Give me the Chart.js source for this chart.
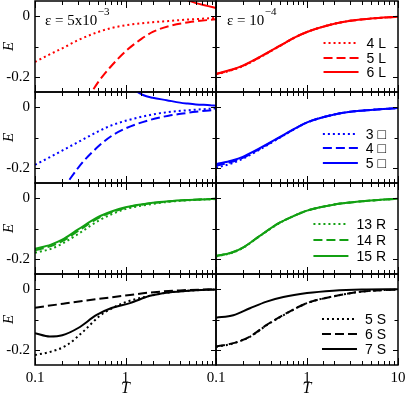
<!DOCTYPE html>
<html>
<head>
<meta charset="utf-8">
<script src="https://cdn.jsdelivr.net/npm/chart.js@4.4.1/dist/chart.umd.min.js"></script>
<style>
  body { margin: 0; background: #fff; }
  #wrap { position: relative; width: 407px; height: 394px; }
  #wrap canvas { position: absolute; left: 0; top: 0; }
</style>
</head>
<body>
<div id="wrap"></div>
<script>
// shared temperature grid
const T = [0.1, 0.15, 0.2, 0.3, 0.5, 0.7, 1, 2, 3, 5, 10];

// row 1: L
const tL5 = [0.3, 0.4, 0.52, 0.67, 1, 1.5, 2, 3, 5, 10];
const tL6 = [3, 4, 5, 6, 8, 10];
const L4a = [-0.151, -0.124, -0.106, -0.079, -0.052, -0.039, -0.03, -0.02, -0.016, -0.011, -0.006];
const L5a = [-0.31, -0.26, -0.21, -0.17, -0.116, -0.075, -0.052, -0.033, -0.02, -0.01];
const L6a = [0.085, 0.062, 0.051, 0.043, 0.034, 0.027];
const L4b = [-0.192, -0.178, -0.164, -0.137, -0.099, -0.074, -0.052, -0.025, -0.015, -0.008, -0.002];
const L5b = [-0.191, -0.177, -0.163, -0.136, -0.098, -0.073, -0.052, -0.025, -0.015, -0.008, -0.002];
const L6b = [-0.19, -0.176, -0.162, -0.135, -0.098, -0.073, -0.052, -0.025, -0.015, -0.008, -0.002];

// row 2: squares
const tQ4 = [0.2, 0.25, 0.34, 0.52, 0.7, 1, 1.87, 3, 4.3, 6, 10];
const tQ5 = [1.2, 1.56, 2, 2.85, 4, 4.8, 6, 8.6, 10];
const Q3a = [-0.19, -0.163, -0.143, -0.115, -0.08, -0.06, -0.045, -0.024, -0.016, -0.01, -0.004];
const Q4a = [-0.275, -0.232, -0.18, -0.125, -0.095, -0.07, -0.042, -0.028, -0.021, -0.015, -0.009];
const Q5a = [0.06, 0.04, 0.031, 0.023, 0.015, 0.012, 0.009, 0.0066, 0.005];
const Q3b = [-0.2, -0.185, -0.169, -0.14, -0.101, -0.075, -0.051, -0.024, -0.015, -0.009, -0.003];
const Q4b = [-0.193, -0.18, -0.166, -0.138, -0.1, -0.075, -0.05, -0.024, -0.015, -0.009, -0.003];
const Q5b = [-0.188, -0.176, -0.163, -0.136, -0.099, -0.074, -0.05, -0.024, -0.015, -0.009, -0.003];

// row 3: R
const R13a = [-0.18, -0.167, -0.15, -0.118, -0.075, -0.053, -0.036, -0.019, -0.012, -0.007, -0.003];
const R14a = [-0.172, -0.158, -0.142, -0.108, -0.066, -0.047, -0.032, -0.016, -0.011, -0.006, -0.002];
const R15a = [-0.167, -0.153, -0.137, -0.103, -0.062, -0.044, -0.03, -0.015, -0.01, -0.006, -0.002];
const R13b = [-0.192, -0.18, -0.163, -0.126, -0.082, -0.06, -0.041, -0.021, -0.014, -0.008, -0.002];
const R14b = [-0.191, -0.179, -0.162, -0.125, -0.081, -0.06, -0.041, -0.021, -0.014, -0.008, -0.002];
const R15b = [-0.191, -0.179, -0.162, -0.125, -0.081, -0.06, -0.041, -0.021, -0.014, -0.008, -0.002];

// row 4: S
const tS5 = [0.1, 0.146, 0.224, 0.34, 0.52, 0.7, 1, 2, 3, 5, 10];
const tS6 = [0.1, 0.205, 0.48, 1.12, 1.87, 4, 10];
const tS7 = [0.1, 0.146, 0.2, 0.3, 0.48, 0.7, 1.12, 1.87, 3, 5, 10];
const tSr = [0.1, 0.155, 0.236, 0.36, 0.55, 1, 1.93, 4, 10];
const S5a = [-0.217, -0.207, -0.185, -0.14, -0.088, -0.064, -0.043, -0.02, -0.011, -0.005, -0.001];
const S6a = [-0.061, -0.048, -0.033, -0.019, -0.011, -0.004, 0];
const S7a = [-0.145, -0.156, -0.152, -0.128, -0.085, -0.062, -0.046, -0.022, -0.011, -0.005, -0.001];
const S5b = [-0.19, -0.179, -0.157, -0.119, -0.086, -0.046, -0.024, -0.008, -0.001];
const S6b = [-0.189, -0.178, -0.156, -0.118, -0.085, -0.046, -0.024, -0.008, -0.001];
const S7b = [-0.094, -0.086, -0.063, -0.041, -0.026, -0.013, -0.005, -0.001, 0];

const W = 407, H = 394;
const colLeft = [35, 216], colRight = [216, 398];
const rowTop = [1, 92, 183, 274], rowBottom = [92, 183, 274, 365];
const legendRows = [[42, 57, 71], [42, 56, 71], [41, 57, 73], [45, 60, 75]];
const serif = "'Liberation Serif', 'DejaVu Serif', serif";
const sans = "'Liberation Sans', 'DejaVu Sans', sans-serif";
const dotted = [2, 3], dashed = [9, 4], solid = [];
const red = '#ff0000', blue = '#0000ff', green = '#13a013', black = '#000000';

function series(label, xs, ys, color, dash) {
  return {
    label: label,
    data: xs.map((x, i) => ({ x: x, y: ys[i] })),
    borderColor: color,
    borderDash: dash,
    borderWidth: 2,
    pointRadius: 0,
    fill: false,
    cubicInterpolationMode: 'monotone'
  };
}

// frame, inward ticks, legend and notes
const framePlugin = {
  id: 'frame',
  afterDatasetsDraw(chart, args, opts) {
    const { ctx, chartArea: a } = chart;
    const x = chart.scales.x, y = chart.scales.y;
    ctx.save();
    ctx.strokeStyle = '#000';
    ctx.lineWidth = 1;
    ctx.setLineDash([]);
    ctx.beginPath();
    x.ticks.forEach(t => {
      const px = Math.round(x.getPixelForValue(t.value)) + 0.5;
      const lg = Math.log10(t.value);
      const len = Math.abs(lg - Math.round(lg)) < 1e-6 ? 7 : 4;
      ctx.moveTo(px, a.bottom); ctx.lineTo(px, a.bottom - len);
      ctx.moveTo(px, a.top); ctx.lineTo(px, a.top + len);
    });
    y.ticks.forEach(t => {
      const v10 = t.value * 10;
      if (Math.abs(v10 - Math.round(v10)) > 1e-6) return;
      const len = Math.round(v10) % 2 === 0 ? 5 : 3.5;
      const py = Math.round(y.getPixelForValue(t.value)) + 0.5;
      ctx.moveTo(a.left, py); ctx.lineTo(a.left + len, py);
      ctx.moveTo(a.right, py); ctx.lineTo(a.right - len, py);
    });
    ctx.stroke();
    ctx.lineWidth = 1.5;
    ctx.strokeRect(a.left, a.top, a.right - a.left, a.bottom - a.top);

    if (opts.legend) {
      ctx.font = '14px ' + sans;
      ctx.fillStyle = '#000';
      ctx.textBaseline = 'middle';
      const sets = chart.data.datasets;
      const tw = Math.max(...sets.map(d => ctx.measureText(d.label).width));
      const tx = 386 - tw;
      sets.forEach((d, i) => {
        const ly = a.top + opts.legend[i];
        ctx.strokeStyle = d.borderColor;
        ctx.lineWidth = 2;
        ctx.setLineDash(d.borderDash);
        ctx.beginPath();
        ctx.moveTo(tx - 43, ly); ctx.lineTo(tx - 8, ly);
        ctx.stroke();
        ctx.fillText(d.label, tx, ly + 1);
      });
      ctx.setLineDash([]);
    }
    if (opts.note) {
      ctx.fillStyle = '#000';
      ctx.textBaseline = 'alphabetic';
      ctx.font = '15px ' + serif;
      const nx = a.left + opts.note.dx, ny = a.top + 24;
      ctx.fillText(opts.note.text, nx, ny);
      const w = ctx.measureText(opts.note.text).width;
      ctx.font = '11px ' + serif;
      ctx.fillText(opts.note.sup, nx + w + 0.5, ny - 10);
    }
    ctx.restore();
  }
};

function panel(row, col, datasets, note) {
  const canvas = document.createElement('canvas');
  canvas.width = W; canvas.height = H;
  document.getElementById('wrap').appendChild(canvas);
  const left = colLeft[col], right = colRight[col];
  const top = rowTop[row], bottom = rowBottom[row];
  const isBottom = row === 3, isLeft = col === 0;
  const xLabels = isLeft ? [0.1, 1] : [0.1, 1, 10];
  new Chart(canvas.getContext('2d'), {
    type: 'line',
    data: { datasets: datasets },
    options: {
      responsive: false,
      animation: false,
      devicePixelRatio: 1,
      layout: { autoPadding: false, padding: { left: 0, top: top, right: W - right, bottom: 0 } },
      plugins: {
        legend: { display: false },
        tooltip: { enabled: false },
        frame: { legend: isLeft ? null : legendRows[row], note: note }
      },
      scales: {
        x: {
          type: 'logarithmic',
          min: 0.1,
          max: 10,
          afterFit: s => { s.height = H - bottom; s.paddingLeft = 0; s.paddingRight = 0; },
          grid: { display: false, drawTicks: false },
          border: { display: false },
          ticks: {
            display: isBottom,
            autoSkip: false,
            maxRotation: 0,
            padding: 4,
            color: '#000',
            font: { family: serif, size: 15 },
            callback: v => xLabels.some(l => Math.abs(l - v) < 1e-9) ? String(v) : ''
          },
          title: {
            display: isBottom,
            text: 'T',
            color: '#000',
            font: { family: serif, size: 16, style: 'italic', lineHeight: 0.6 },
            padding: { top: 0, bottom: 0 }
          }
        },
        y: {
          min: -0.25,
          max: 0.05,
          afterFit: s => { s.width = left; s.paddingTop = 0; s.paddingBottom = 0; },
          grid: { display: false, drawTicks: false },
          border: { display: false },
          ticks: {
            display: isLeft,
            autoSkip: false,
            stepSize: 0.05,
            padding: 5,
            color: '#000',
            font: { family: serif, size: 15 },
            callback: v => Math.abs(v) < 1e-9 ? '0' : (Math.abs(v + 0.2) < 1e-9 ? '-0.2' : '')
          },
          title: {
            display: isLeft,
            text: 'E',
            color: '#000',
            font: { family: serif, size: 15, style: 'italic', lineHeight: 1 },
            padding: { top: 1.5, bottom: 0 }
          }
        }
      }
    },
    plugins: [framePlugin]
  });
}

panel(0, 0, [
  series('4 L', T, L4a, red, dotted),
  series('5 L', tL5, L5a, red, dashed),
  series('6 L', tL6, L6a, red, solid)
], { text: '\u03b5 = 5x10', sup: '\u22123', dx: 10 });
panel(0, 1, [
  series('4 L', T, L4b, red, dotted),
  series('5 L', T, L5b, red, dashed),
  series('6 L', T, L6b, red, solid)
], { text: '\u03b5 = 10', sup: '\u22124', dx: 11 });

panel(1, 0, [
  series('3 \u25a1', T, Q3a, blue, dotted),
  series('4 \u25a1', tQ4, Q4a, blue, dashed),
  series('5 \u25a1', tQ5, Q5a, blue, solid)
]);
panel(1, 1, [
  series('3 \u25a1', T, Q3b, blue, dotted),
  series('4 \u25a1', T, Q4b, blue, dashed),
  series('5 \u25a1', T, Q5b, blue, solid)
]);

panel(2, 0, [
  series('13 R', T, R13a, green, dotted),
  series('14 R', T, R14a, green, dashed),
  series('15 R', T, R15a, green, solid)
]);
panel(2, 1, [
  series('13 R', T, R13b, green, dotted),
  series('14 R', T, R14b, green, dashed),
  series('15 R', T, R15b, green, solid)
]);

panel(3, 0, [
  series('5 S', tS5, S5a, black, dotted),
  series('6 S', tS6, S6a, black, dashed),
  series('7 S', tS7, S7a, black, solid)
]);
panel(3, 1, [
  series('5 S', tSr, S5b, black, dotted),
  series('6 S', tSr, S6b, black, dashed),
  series('7 S', tSr, S7b, black, solid)
]);
</script>
</body>
</html>
